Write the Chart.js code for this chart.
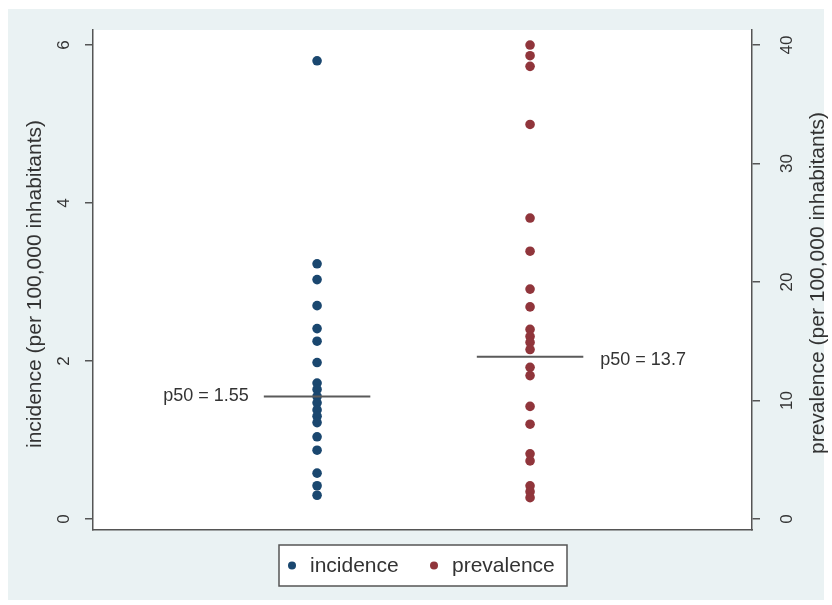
<!DOCTYPE html>
<html>
<head>
<meta charset="utf-8">
<script src="https://cdn.jsdelivr.net/npm/chart.js@4/dist/chart.umd.min.js"></script>
<style>
  html, body { margin: 0; padding: 0; background: #ffffff; }
  canvas { display: block; }
</style>
</head>
<body>
<canvas id="c" width="832" height="605"></canvas>
<script>
// ---- data ----
const seriesNames = ['incidence', 'prevalence'];
const incidence = [5.80, 3.23, 3.03, 2.70, 2.41, 2.25, 1.98, 1.72, 1.64, 1.55, 1.47, 1.38, 1.30, 1.22, 1.04, 0.87, 0.58, 0.42, 0.30];
const prevalence = [40.0, 39.1, 38.2, 33.3, 25.4, 22.6, 19.4, 17.9, 16.0, 15.4, 14.9, 14.3, 12.8, 12.1, 9.5, 8.0, 5.5, 4.9, 2.8, 2.3, 1.8];
const medianIncidence = 1.55;
const medianPrevalence = 13.7;
const incidenceTicks = [0, 2, 4, 6];
const prevalenceTicks = [0, 10, 20, 30, 40];
const leftTitle = 'incidence (per 100,000 inhabitants)';
const rightTitle = 'prevalence (per 100,000 inhabitants)';

// ---- styles ----
const BLUE = '#1a476f';
const RED = '#90353b';
const AXIS = '#555555';
const FONT = '"Liberation Sans", Arial, sans-serif';

const decor = {
  id: 'decor',
  beforeDraw(chart) {
    const { ctx, chartArea: a } = chart;
    ctx.save();
    ctx.fillStyle = '#ffffff';
    ctx.fillRect(0, 0, chart.width, chart.height);
    ctx.fillStyle = '#eaf2f3';
    ctx.fillRect(8, 9, chart.width - 16, chart.height - 14);
    ctx.fillStyle = '#ffffff';
    ctx.fillRect(a.left, a.top, a.right - a.left, a.bottom - a.top);
    ctx.restore();
  },
  afterDraw(chart) {
    const { ctx, scales } = chart;
    const yL = scales.y, yR = scales.y2, x = scales.x;
    ctx.save();
    ctx.fillStyle = '#333333';
    ctx.font = '17px ' + FONT;
    ctx.textAlign = 'center';
    ctx.textBaseline = 'middle';
    const vtext = (t, cx, cy) => {
      ctx.save();
      ctx.translate(cx, cy);
      ctx.rotate(-Math.PI / 2);
      ctx.fillText(t, 0, 0);
      ctx.restore();
    };
    incidenceTicks.forEach(v => vtext(String(v), 64, yL.getPixelForValue(v)));
    prevalenceTicks.forEach(v => vtext(String(v), 787, yR.getPixelForValue(v)));
    // axis titles
    ctx.font = '21px ' + FONT;
    vtext(leftTitle, 35, yL.getPixelForValue(3) + 2);
    vtext(rightTitle, 818, yR.getPixelForValue(20) + 1);
    // median labels
    ctx.font = '18px ' + FONT;
    ctx.textAlign = 'right';
    ctx.fillText('p50 = ' + medianIncidence.toFixed(2), x.getPixelForValue(0.75) - 15, yL.getPixelForValue(medianIncidence));
    ctx.textAlign = 'left';
    ctx.fillText('p50 = ' + medianPrevalence.toFixed(1), x.getPixelForValue(2.25) + 17, yR.getPixelForValue(medianPrevalence) + 3);
    // legend
    const lx = 279, ly = 545, lw = 288, lh = 41;
    ctx.fillStyle = '#ffffff';
    ctx.fillRect(lx, ly, lw, lh);
    ctx.strokeStyle = '#555555';
    ctx.lineWidth = 1.5;
    ctx.strokeRect(lx, ly, lw, lh);
    const cy = ly + lh / 2;
    const items = [
      { name: seriesNames[0], color: BLUE, dx: 292, tx: 310 },
      { name: seriesNames[1], color: RED, dx: 434, tx: 452 }
    ];
    ctx.font = '21px ' + FONT;
    ctx.textAlign = 'left';
    ctx.textBaseline = 'middle';
    items.forEach(it => {
      ctx.fillStyle = it.color;
      ctx.beginPath();
      ctx.arc(it.dx, cy, 4, 0, Math.PI * 2);
      ctx.fill();
      ctx.fillStyle = '#333333';
      ctx.fillText(it.name, it.tx, cy + 1);
    });
    ctx.restore();
  }
};

const ptStyle = (c) => ({
  backgroundColor: c, borderColor: c, pointRadius: 4.8, pointHoverRadius: 4.8, borderWidth: 0
});

new Chart(document.getElementById('c'), {
  type: 'scatter',
  data: {
    datasets: [
      Object.assign({ label: seriesNames[0], yAxisID: 'y', order: 2,
        data: incidence.map(v => ({ x: 1, y: v })) }, ptStyle(BLUE)),
      Object.assign({ label: seriesNames[1], yAxisID: 'y2', order: 2,
        data: prevalence.map(v => ({ x: 2, y: v })) }, ptStyle(RED)),
      { label: 'p50 incidence', yAxisID: 'y', order: 1, showLine: true,
        data: [{ x: 0.75, y: medianIncidence }, { x: 1.25, y: medianIncidence }],
        borderColor: '#5a5a5a', borderWidth: 2, pointRadius: 0 },
      { label: 'p50 prevalence', yAxisID: 'y2', order: 1, showLine: true,
        data: [{ x: 1.75, y: medianPrevalence }, { x: 2.25, y: medianPrevalence }],
        borderColor: '#5a5a5a', borderWidth: 2, pointRadius: 0 }
    ]
  },
  options: {
    responsive: false,
    animation: false,
    devicePixelRatio: 1,
    layout: { padding: { top: 30, bottom: 75, left: 0, right: 0 } },
    plugins: { legend: { display: false }, tooltip: { enabled: false } },
    scales: {
      x: {
        type: 'linear', position: 'bottom', min: -0.052, max: 3.042,
        grid: { display: false, drawTicks: false },
        ticks: { display: false },
        border: { display: true, color: AXIS, width: 1.5 },
        afterFit: s => { s.height = 0; }
      },
      y: {
        type: 'linear', position: 'left', min: -0.14, max: 6.19,
        afterBuildTicks: s => { s.ticks = incidenceTicks.map(v => ({ value: v })); },
        ticks: { display: false },
        grid: { display: true, drawOnChartArea: false, drawTicks: true, tickLength: 8, color: AXIS, lineWidth: 1.5 },
        border: { display: true, color: AXIS, width: 1.5 },
        afterFit: s => { s.width = 93; }
      },
      y2: {
        type: 'linear', position: 'right', min: -0.93, max: 41.27,
        afterBuildTicks: s => { s.ticks = prevalenceTicks.map(v => ({ value: v })); },
        ticks: { display: false },
        grid: { display: true, drawOnChartArea: false, drawTicks: true, tickLength: 8, color: AXIS, lineWidth: 1.5 },
        border: { display: true, color: AXIS, width: 1.5 },
        afterFit: s => { s.width = 80; }
      }
    }
  },
  plugins: [decor]
});
</script>
</body>
</html>
